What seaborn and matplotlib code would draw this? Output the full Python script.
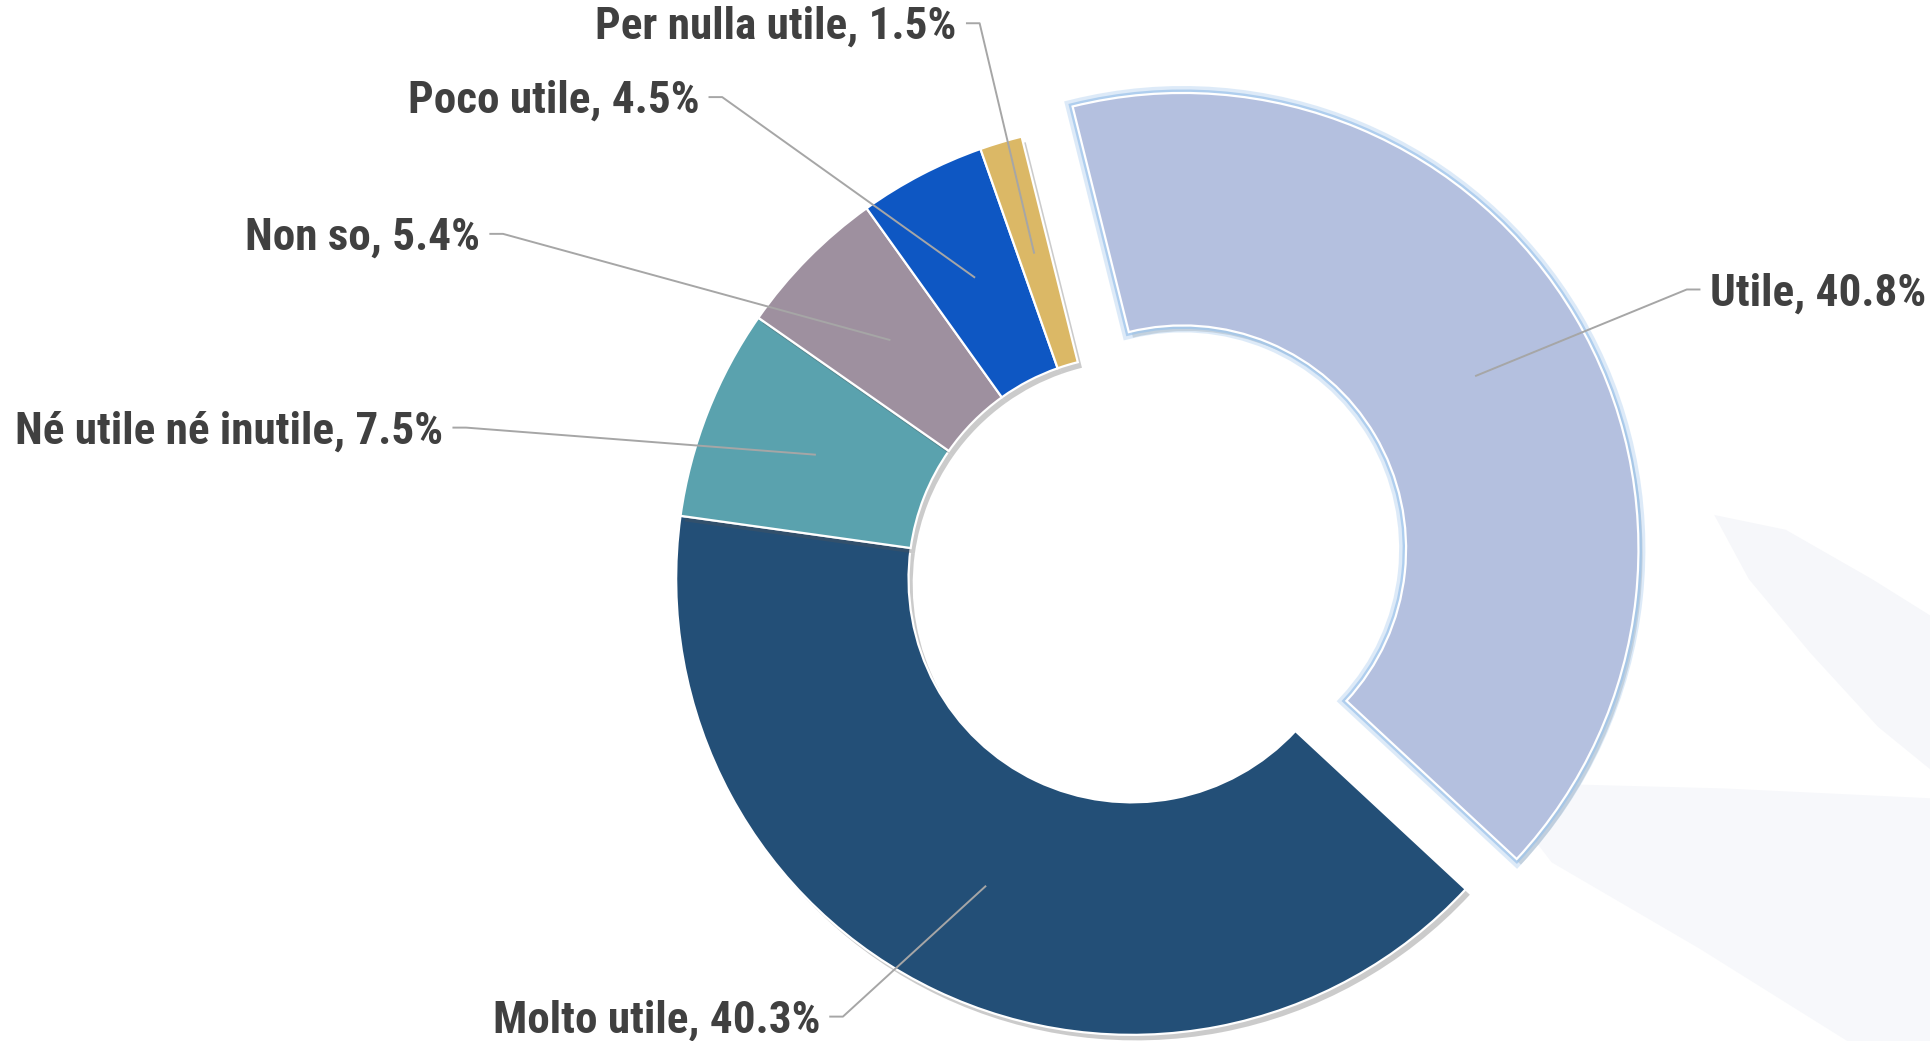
import numpy as np
import matplotlib
matplotlib.use("Agg")
import matplotlib.pyplot as plt
import seaborn as sns
from matplotlib import patheffects as pe
from matplotlib.patches import Polygon

# Survey answers, in clockwise order starting near the top
categories = ["Utile", "Molto utile", "Né utile né inutile", "Non so", "Poco utile", "Per nulla utile"]
shares = [40.8, 40.3, 7.5, 5.4, 4.5, 1.5]
colors = ["#b4c0df", "#234f77", "#5aa2ae", "#9e909f", "#0e57c3", "#dbb866"]
explode = [0.13, 0, 0, 0, 0, 0]

# Label text anchors (data units, ring radius = 1) and horizontal alignment
label_layout = [
    (1.268, 0.627, "left"),
    (-0.684, -0.968, "right"),
    (-1.511, 0.324, "right"),
    (-1.430, 0.749, "right"),
    (-0.949, 1.049, "right"),
    (-0.384, 1.211, "right"),
]

sns.set_theme(style="white")
plt.rcParams["font.family"] = ["Roboto Condensed", "Liberation Sans Narrow", "DejaVu Sans"]

W, H = 1931, 1041
fig = plt.figure(figsize=(W / 100, H / 100), dpi=100)
fig.patch.set_facecolor("white")
ax = fig.add_axes([0, 0, 1, 1])
ax.set_facecolor("white")

# faint decorative swooshes in the lower right corner
sw1 = [(1392, 418), (1420, 470), (1470, 530), (1525, 590), (1568, 625),
       (1568, 500), (1520, 470), (1450, 430)]
sw2 = [(1210, 635), (1400, 640), (1568, 648), (1568, 845), (1500, 845),
       (1380, 770), (1260, 700)]
for pts, fc in ((sw1, "#f6f7fa"), (sw2, "#f7f8fb")):
    ax.add_patch(Polygon([(x / 1568, 1 - y / 845) for x, y in pts], closed=True,
                         transform=ax.transAxes, facecolor=fc, edgecolor="none", zorder=0))

wedges, _ = ax.pie(
    shares, colors=colors, explode=explode, startangle=104, counterclock=False,
    radius=1.0, wedgeprops=dict(width=0.51, edgecolor="white", linewidth=1.6),
)

shadow = pe.SimplePatchShadow(offset=(3, -4), shadow_rgbFace="#555555", alpha=0.3)
for i, w in enumerate(wedges):
    w.set_zorder(3)
    if i == 0:
        w.set_path_effects([shadow,
                            pe.Stroke(linewidth=10, foreground="#bcd7f2", alpha=0.5),
                            pe.Stroke(linewidth=5, foreground="#9cc3ea", alpha=0.7),
                            pe.Normal()])
    else:
        w.set_path_effects([shadow, pe.Normal()])

ax.set_xlim(-2.484, 1.754)
ax.set_ylim(-1.0135, 1.270)
ax.set_aspect("auto")
ax.axis("off")

for w, cat, val, (tx, ty, ha) in zip(wedges, categories, shares, label_layout):
    mid = np.deg2rad((w.theta1 + w.theta2) / 2)
    cx, cy = w.center
    r_mid = w.r - w.width / 2
    px, py = cx + r_mid * np.cos(mid), cy + r_mid * np.sin(mid)
    sgn = 1 if ha == "right" else -1
    x0 = tx + sgn * 0.02
    x1 = x0 + sgn * 0.03
    ly = ty + 0.008
    ax.plot([x0, x1, px], [ly, ly, py], color="#a6a6a6", lw=1.4, zorder=5,
            solid_capstyle="butt")
    ax.text(tx, ty, f"{cat}, {val}%", ha=ha, va="center", fontsize=32.5,
            fontweight="bold", color="#404040", zorder=6)

fig.savefig("out.png", dpi=100)
